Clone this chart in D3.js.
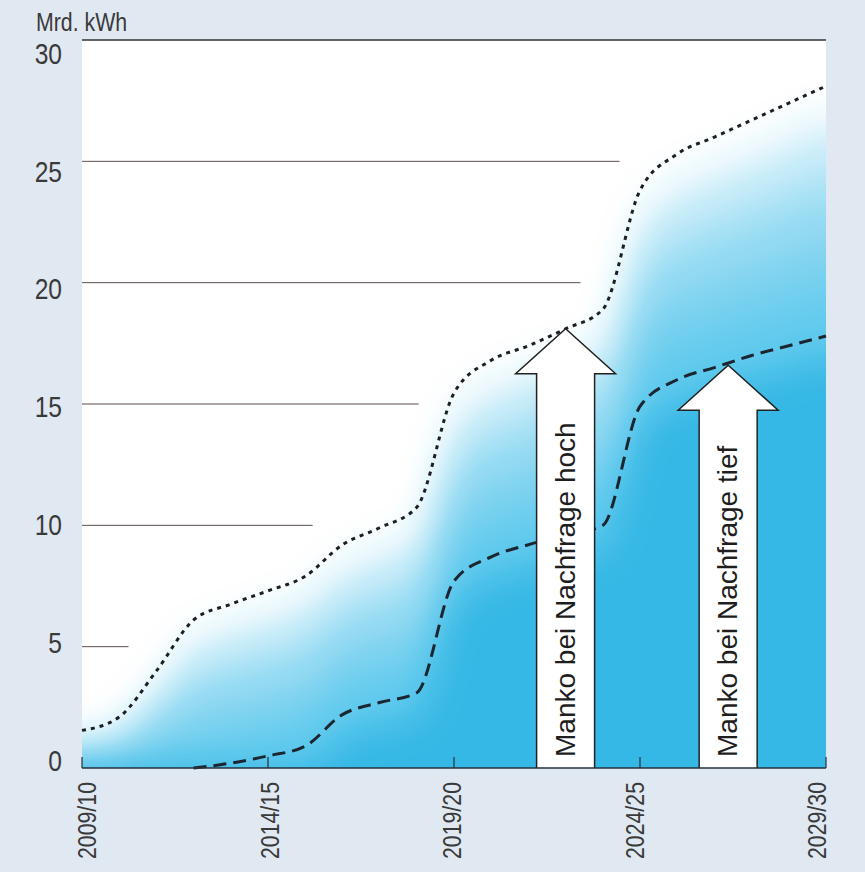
<!DOCTYPE html>
<html>
<head>
<meta charset="utf-8">
<script src="https://cdn.jsdelivr.net/npm/d3@7"></script>
<style>
  body { margin: 0; background: #e0e9f2; }
  .num { font-family: 'Liberation Sans', Arial, sans-serif; fill: #3a3a3a; }
  .arrowtxt { font-family: 'Liberation Sans', Arial, sans-serif; fill: #1e1e1e; }
</style>
</head>
<body>
<div class="chart"></div>
<script>
// Data (index 0 = 2009/10 ... 20 = 2029/30)
let years = ["2009/10", "2010/11", "2011/12", "2012/13", "2013/14", "2014/15", "2015/16",
    "2016/17", "2017/18", "2018/19", "2019/20", "2020/21", "2021/22", "2022/23", "2023/24",
    "2024/25", "2025/26", "2026/27", "2027/28", "2028/29", "2029/30"];
let mankoHoch = [1.55, 2.1, 4.0, 6.1, 6.75, 7.3, 7.9, 9.2, 9.9, 10.75, 15.45, 16.8, 17.4,
    18.1, 18.9, 23.8, 25.3, 26.0, 26.7, 27.4, 28.1];
let mankoTief = [null, null, null, 0, 0.2, 0.5, 0.9, 2.2, 2.7, 3.1, 7.7, 8.7, 9.2,
    9.6, 10.0, 14.9, 16.0, 16.5, 17.0, 17.4, 17.8];
let yTicks = [0, 5, 10, 15, 20, 25, 30];
let xTickIdx = [0, 5, 10, 15, 20];
// gridline value and the year index where each line stops
let gridValues = [5, 10, 15, 20, 25, 30];
let gridEnds = [1.25, 6.2, 9.05, 13.4, 14.45, 20];
// arrows: label, position (year index), top value
let arrowLabels = ["Manko bei Nachfrage hoch", "Manko bei Nachfrage tief"];
let arrowPos = [13.0, 17.37];
let arrowTop = [18.1, 16.6];

let svgWidth = 865;
let svgHeight = 872;
let margin = { top: 40, right: 39, bottom: 104, left: 82 };
let width = svgWidth - margin.left - margin.right;
let height = svgHeight - margin.top - margin.bottom;

let blue = "#2bb3e3";
let narrow = 0.82; // horizontal squeeze to get a condensed face

let svg = d3.select(".chart")
    .append("svg")
    .attr("width", svgWidth)
    .attr("height", svgHeight);

svg.append("rect")
    .attr("width", svgWidth)
    .attr("height", svgHeight)
    .attr("fill", "#e0e9f2");

let defs = svg.append("defs");
defs.append("clipPath").attr("id", "plotclip")
    .append("rect").attr("width", width).attr("height", height);
defs.append("filter").attr("id", "soft")
    .attr("x", "-20%").attr("y", "-20%").attr("width", "140%").attr("height", "140%")
    .append("feGaussianBlur").attr("stdDeviation", 17);

let chartGroup = svg.append("g")
    .attr("transform", `translate(${margin.left}, ${margin.top})`);

let x = d3.scaleLinear().domain([0, years.length - 1]).range([0, width]);
let y = d3.scaleLinear().domain([0, 30]).range([height, 0]);
// label positions sit slightly off the tick positions in the original
let xLab = d3.scaleLinear().domain([0, years.length - 1]).range([5, width - 9]);
let yLab = d3.scaleLinear().domain([0, 30]).range([height - 8, 13]);

chartGroup.append("rect")
    .attr("width", width)
    .attr("height", height)
    .attr("fill", "#ffffff");

// soft blue fill between the curves (stacked translucent layers, blurred)
let rows = years.map((d, i) => ({ i: i, hi: mankoHoch[i], lo: mankoTief[i] === null ? 0 : mankoTief[i] }));
let padded = [Object.assign({}, rows[0], { i: -1.5 })]
    .concat(rows, [Object.assign({}, rows[rows.length - 1], { i: rows.length + 0.5 })]);

let fillGroup = chartGroup.append("g").attr("clip-path", "url(#plotclip)")
    .append("g").attr("filter", "url(#soft)");

let layerT = [0.0, 0.09, 0.18, 0.27, 0.36, 0.45, 0.54, 0.63, 0.72, 0.81, 0.9];
layerT.forEach(t => {
    fillGroup.append("path")
        .datum(padded)
        .attr("fill", blue)
        .attr("fill-opacity", 0.12)
        .attr("d", d3.area()
            .curve(d3.curveMonotoneX)
            .x(d => x(d.i))
            .y0(height + 60)
            .y1(d => y(d.lo + t * (d.hi - d.lo))));
});
fillGroup.append("path")
    .datum(padded)
    .attr("fill", blue)
    .attr("fill-opacity", 0.75)
    .attr("d", d3.area()
        .curve(d3.curveMonotoneX)
        .x(d => x(d.i))
        .y0(height + 60)
        .y1(d => y(Math.max(0, d.lo - 1))));

// partial gridlines
chartGroup.selectAll(".grid")
    .data(gridValues)
    .enter()
    .append("line")
    .attr("class", "grid")
    .attr("x1", 0)
    .attr("x2", (d, k) => x(gridEnds[k]))
    .attr("y1", d => y(d))
    .attr("y2", d => y(d))
    .attr("stroke", d => d === 30 ? "#333" : "#5c4d4d")
    .attr("stroke-width", d => d === 30 ? 1.3 : 1);

// curves
chartGroup.append("path")
    .datum(rows)
    .attr("fill", "none")
    .attr("stroke", "#1c1f24")
    .attr("stroke-width", 3)
    .attr("stroke-dasharray", "4,5")
    .attr("d", d3.line().curve(d3.curveMonotoneX).x(d => x(d.i)).y(d => y(d.hi)));

chartGroup.append("path")
    .datum(rows.filter(d => mankoTief[d.i] !== null))
    .attr("fill", "none")
    .attr("stroke", "#1c2630")
    .attr("stroke-width", 3)
    .attr("stroke-dasharray", "13,7")
    .attr("d", d3.line().curve(d3.curveMonotoneX).x(d => x(d.i)).y(d => y(d.lo)));

// arrows
arrowLabels.forEach((label, k) => {
    let cx = x(arrowPos[k]);
    let top = y(arrowTop[k]);
    let base = y(0);
    let shaft = 29, head = 50, headH = 45;
    let p = d3.path();
    p.moveTo(cx - shaft, base);
    p.lineTo(cx - shaft, top + headH);
    p.lineTo(cx - head, top + headH);
    p.lineTo(cx, top);
    p.lineTo(cx + head, top + headH);
    p.lineTo(cx + shaft, top + headH);
    p.lineTo(cx + shaft, base);
    chartGroup.append("path")
        .attr("d", p.toString())
        .attr("fill", "#ffffff")
        .attr("stroke", "#222")
        .attr("stroke-width", 1.5)
        .attr("stroke-linejoin", "miter");
    chartGroup.append("text")
        .attr("class", "arrowtxt")
        .attr("transform", `translate(${cx + 9}, ${base - 11}) rotate(-90)`)
        .attr("font-size", 28)
        .text(label);
});

// bottom axis line and ticks
chartGroup.append("line")
    .attr("x1", 0).attr("x2", width)
    .attr("y1", height).attr("y2", height)
    .attr("stroke", "#24313d")
    .attr("stroke-width", 1.5);

chartGroup.selectAll(".xtick")
    .data(xTickIdx)
    .enter()
    .append("line")
    .attr("x1", d => x(d)).attr("x2", d => x(d))
    .attr("y1", height).attr("y2", height - 11)
    .attr("stroke", "#24313d")
    .attr("stroke-width", 1.2);

// x labels
chartGroup.selectAll(".xlab")
    .data(xTickIdx)
    .enter()
    .append("text")
    .attr("class", "num")
    .attr("font-size", 26)
    .attr("text-anchor", "end")
    .attr("transform", d => `translate(${xLab(d) + 9}, ${height + 14}) rotate(-90) scale(${narrow}, 1)`)
    .text(d => years[d]);

// y labels
chartGroup.selectAll(".ylab")
    .data(yTicks)
    .enter()
    .append("text")
    .attr("class", "num")
    .attr("font-size", 30)
    .attr("text-anchor", "end")
    .attr("transform", d => `translate(-20, ${yLab(d)}) scale(${narrow}, 1)`)
    .attr("dy", "0.36em")
    .text(d => d);

svg.append("text")
    .attr("class", "num")
    .attr("font-size", 26)
    .attr("transform", `translate(36, 31) scale(${narrow}, 1)`)
    .text("Mrd. kWh");
</script>
</body>
</html>
